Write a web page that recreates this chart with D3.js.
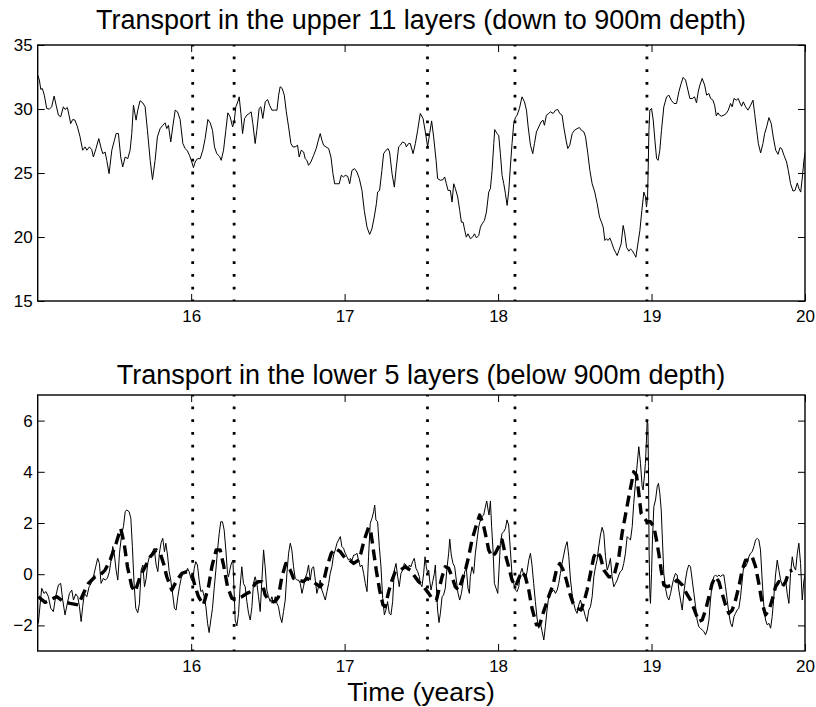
<!DOCTYPE html>
<html><head><meta charset="utf-8">
<script src="https://cdn.jsdelivr.net/npm/d3@7"></script>
<style>
body{margin:0;background:#fff}
svg{display:block}
text{font-family:"Liberation Sans",Arial,Helvetica,sans-serif;fill:#000}
</style>
</head><body>
<svg id="chart" width="816" height="707"></svg>
<script>
// ---------- data ----------
const upperTitle = "Transport in the upper 11 layers (down to 900m depth)";
const lowerTitle = "Transport in the lower 5 layers (below 900m depth)";
const xLabel = "Time (years)";
const xDomain = [15, 20];
const xTicks = [16, 17, 18, 19, 20];
const upperDomain = [15, 35];
const upperYTicks = [15, 20, 25, 30, 35];
const lowerDomain = [-3, 7];
const lowerYTicks = [-2, 0, 2, 4, 6];
const eventTimes = [16.01, 16.28, 17.54, 18.11, 18.97];

// [year, transport] upper 11 layers
const upperTransport = [
[15.000,32.65],[15.011,32.26],[15.020,31.53],[15.030,31.61],[15.043,31.08],[15.059,30.04],[15.076,29.99],[15.091,30.17],[15.107,31.01],[15.120,30.30],[15.135,29.52],[15.150,29.39],[15.167,30.17],[15.178,29.96],[15.193,30.12],[15.204,29.52],[15.215,28.86],[15.228,29.18],[15.243,29.13],[15.259,28.60],[15.276,27.82],[15.293,26.78],[15.309,27.04],[15.320,26.78],[15.337,27.04],[15.352,26.83],[15.363,26.25],[15.380,26.91],[15.398,27.69],[15.411,27.04],[15.424,26.51],[15.439,26.64],[15.450,25.99],[15.465,24.95],[15.483,26.78],[15.500,27.56],[15.511,28.08],[15.526,28.08],[15.541,26.25],[15.554,25.47],[15.570,26.25],[15.587,26.12],[15.602,26.78],[15.613,28.08],[15.624,30.30],[15.641,29.13],[15.652,29.91],[15.667,30.64],[15.685,30.48],[15.700,30.17],[15.715,28.34],[15.733,25.99],[15.748,24.48],[15.765,25.99],[15.780,27.82],[15.798,28.47],[15.815,28.73],[15.830,28.92],[15.841,28.47],[15.852,28.73],[15.867,27.43],[15.880,28.60],[15.896,29.91],[15.911,29.78],[15.928,29.18],[15.946,27.30],[15.961,26.91],[15.976,26.72],[15.989,26.38],[16.004,25.86],[16.015,25.42],[16.026,25.86],[16.041,26.12],[16.059,26.12],[16.076,26.78],[16.091,27.69],[16.109,29.18],[16.124,28.92],[16.139,28.34],[16.152,27.04],[16.167,26.51],[16.185,26.30],[16.196,25.99],[16.211,26.78],[16.226,28.34],[16.239,29.70],[16.254,29.39],[16.270,28.60],[16.280,28.99],[16.291,30.17],[16.304,30.56],[16.313,30.95],[16.324,29.65],[16.335,28.08],[16.348,29.26],[16.363,29.52],[16.378,29.65],[16.391,29.78],[16.402,28.86],[16.417,27.30],[16.428,28.34],[16.443,30.04],[16.454,30.17],[16.467,29.26],[16.483,30.56],[16.498,30.74],[16.511,30.30],[16.526,29.91],[16.541,29.91],[16.559,29.91],[16.570,31.08],[16.580,31.74],[16.593,31.61],[16.607,31.08],[16.620,29.78],[16.635,28.60],[16.650,27.30],[16.663,27.04],[16.678,27.04],[16.693,27.17],[16.704,26.25],[16.717,26.78],[16.733,26.64],[16.743,26.12],[16.754,25.99],[16.765,25.60],[16.780,25.86],[16.798,26.38],[16.815,26.91],[16.826,27.43],[16.841,28.08],[16.852,27.56],[16.863,27.17],[16.878,27.04],[16.896,26.91],[16.911,26.25],[16.924,24.95],[16.935,24.16],[16.950,24.16],[16.965,24.16],[16.978,24.82],[16.993,24.69],[17.004,24.82],[17.020,24.74],[17.033,24.16],[17.048,25.21],[17.065,25.34],[17.080,25.08],[17.096,24.56],[17.113,23.64],[17.128,22.08],[17.146,20.77],[17.163,20.20],[17.178,20.64],[17.193,21.55],[17.207,22.60],[17.215,23.51],[17.228,23.64],[17.243,25.21],[17.254,26.51],[17.270,26.78],[17.283,26.91],[17.293,26.64],[17.309,24.95],[17.324,23.90],[17.337,25.47],[17.352,27.04],[17.363,27.17],[17.378,27.43],[17.396,27.30],
[17.402,27.04],[17.417,27.30],[17.428,27.30],[17.446,26.51],[17.461,27.30],[17.476,28.34],[17.493,29.65],[17.511,29.26],[17.526,28.21],[17.541,27.04],[17.554,28.08],[17.567,29.07],[17.580,27.82],[17.596,25.99],[17.606,24.56],[17.624,24.43],[17.641,24.48],[17.652,24.69],[17.663,24.16],[17.674,23.64],[17.689,23.64],[17.700,22.73],[17.711,24.16],[17.722,23.77],[17.737,23.12],[17.750,22.08],[17.761,21.16],[17.772,21.16],[17.783,20.51],[17.793,19.99],[17.804,20.25],[17.820,19.86],[17.837,20.04],[17.846,20.25],[17.859,19.93],[17.874,20.12],[17.885,20.77],[17.896,21.03],[17.911,21.29],[17.924,21.95],[17.939,23.51],[17.950,23.77],[17.961,25.21],[17.972,27.30],[17.978,28.39],[17.993,28.08],[18.004,27.95],[18.015,26.51],[18.026,24.82],[18.037,24.16],[18.048,23.38],[18.059,22.47],[18.070,23.64],[18.080,25.47],[18.091,27.30],[18.102,28.86],[18.113,29.33],[18.124,29.52],[18.139,30.04],[18.156,30.95],[18.172,30.56],[18.185,29.91],[18.196,28.60],[18.211,27.17],[18.226,26.51],[18.237,27.30],[18.250,28.21],[18.265,28.60],[18.280,28.99],[18.293,29.13],[18.302,28.73],[18.315,29.52],[18.330,29.65],[18.341,29.78],[18.359,29.65],[18.374,29.91],[18.389,29.96],[18.402,29.65],[18.417,29.52],[18.428,28.60],[18.443,27.56],[18.454,26.91],[18.467,27.17],[18.483,28.08],[18.498,28.34],[18.515,28.47],[18.530,28.55],[18.543,28.34],[18.559,28.21],[18.570,27.82],[18.585,26.51],[18.598,25.21],[18.613,24.16],[18.630,23.51],[18.646,22.60],[18.661,21.55],[18.674,21.16],[18.685,20.77],[18.696,19.73],[18.706,19.86],[18.717,19.73],[18.728,19.93],[18.739,19.60],[18.754,19.07],[18.765,18.81],[18.776,18.55],[18.787,18.94],[18.802,19.46],[18.815,20.90],[18.826,20.25],[18.837,19.20],[18.852,18.89],[18.863,19.07],[18.874,18.94],[18.889,18.63],[18.898,18.42],[18.911,19.46],[18.924,20.51],[18.937,22.08],[18.950,23.51],[18.961,23.12],[18.967,22.34],[18.974,23.12],[18.978,25.21],[18.983,28.34],[18.989,29.91],[19.000,30.04],[19.011,29.13],[19.022,27.56],[19.033,26.12],[19.043,25.99],[19.054,26.78],[19.065,28.34],[19.080,30.17],[19.098,30.95],[19.113,31.08],[19.128,30.69],[19.146,30.43],[19.163,30.43],[19.178,31.34],[19.193,32.00],[19.206,32.47],[19.222,32.26],[19.237,31.48],[19.250,30.82],[19.265,30.82],[19.280,30.95],[19.293,30.48],[19.304,31.34],[19.315,31.87],[19.330,32.39],[19.346,31.87],[19.359,31.08],[19.374,31.21],[19.385,30.82],[19.400,30.69],[19.411,30.30],[19.422,29.46],[19.433,29.70],[19.443,29.52],[19.456,29.44],[19.472,29.52],[19.487,29.65],[19.500,29.91],[19.515,30.43],[19.526,30.17],[19.537,30.82],[19.552,30.69],[19.565,30.82],[19.576,30.48],[19.587,30.22],[19.598,30.56],[19.613,30.17],[19.628,29.91],[19.646,30.30],[19.661,30.69],[19.672,29.65],[19.685,28.34],[19.696,27.30],[19.711,26.57],[19.726,27.30],[19.737,28.08],[19.750,28.60],[19.765,29.33],[19.780,28.86],[19.793,27.82],[19.809,26.78],[19.824,26.46],[19.837,26.98],[19.848,26.91],[19.863,26.38],[19.880,25.86],[19.891,25.21],[19.906,24.16],[19.922,23.59],[19.935,23.64],[19.950,24.22],[19.961,23.77],[19.972,23.51],[19.983,24.69],[19.993,25.99],[20.004,26.78]
];

// [year, transport] lower 5 layers (thin solid)
const lowerTransport = [
[15.004,-1.92],[15.026,-0.55],[15.041,-0.75],[15.054,-0.68],[15.070,-0.88],[15.085,-1.33],[15.102,-1.46],[15.117,-0.88],[15.135,-0.42],[15.150,-0.36],[15.163,-1.01],[15.178,-1.59],[15.193,-1.14],[15.207,-0.75],[15.222,-0.62],[15.233,-1.01],[15.248,-0.77],[15.261,-0.88],[15.272,-1.27],[15.283,-1.85],[15.293,-1.27],[15.304,-0.75],[15.320,-0.88],[15.335,-0.49],[15.348,-0.36],[15.363,-0.10],[15.378,0.29],[15.391,0.62],[15.402,0.42],[15.413,-0.36],[15.428,-0.16],[15.439,-0.23],[15.454,-0.16],[15.467,0.10],[15.478,0.55],[15.489,1.08],[15.500,0.75],[15.511,0.16],[15.522,-0.23],[15.533,0.82],[15.548,1.60],[15.559,1.86],[15.570,2.44],[15.580,2.51],[15.596,2.44],[15.607,2.18],[15.617,1.08],[15.628,-0.36],[15.639,-1.33],[15.652,-1.50],[15.663,-1.14],[15.674,0.16],[15.685,0.36],[15.696,-0.49],[15.707,-0.16],[15.717,0.42],[15.728,0.68],[15.743,0.82],[15.759,1.01],[15.772,0.36],[15.783,0.10],[15.793,0.82],[15.804,1.23],[15.815,1.40],[15.826,0.88],[15.835,1.21],[15.846,0.75],[15.857,0.10],[15.867,-0.23],[15.880,-0.81],[15.891,-1.33],[15.902,-1.40],[15.913,-0.88],[15.924,-0.49],[15.935,-0.16],[15.946,0.03],[15.957,0.10],[15.967,0.03],[15.976,0.23],[15.987,0.10],[15.998,-0.16],[16.009,-0.29],[16.020,0.23],[16.030,0.49],[16.041,0.36],[16.052,-0.23],[16.063,-0.68],[16.074,-0.62],[16.085,-0.88],[16.096,-1.27],[16.107,-1.92],[16.117,-2.28],[16.128,-1.79],[16.139,-1.33],[16.150,-0.55],[16.161,0.16],[16.172,0.95],[16.183,1.60],[16.193,2.05],[16.204,2.05],[16.215,1.73],[16.226,0.95],[16.237,0.03],
[16.243,-0.10],[16.259,0.36],[16.272,0.55],[16.287,-1.79],[16.298,-2.02],[16.309,-1.53],[16.319,-0.49],[16.330,0.29],[16.341,-0.36],[16.352,-0.49],[16.363,-1.07],[16.374,-1.53],[16.385,-1.79],[16.396,-1.27],[16.406,-0.36],[16.417,-0.10],[16.428,-0.36],[16.439,-0.88],[16.450,-1.46],[16.461,-0.23],[16.472,0.95],[16.482,0.29],[16.493,-0.62],[16.504,-0.88],[16.515,-1.07],[16.526,-0.88],[16.537,-1.14],[16.548,-0.88],[16.559,-1.14],[16.569,-1.27],[16.580,-1.66],[16.591,-1.89],[16.602,-1.46],[16.613,-1.01],[16.624,0.03],[16.635,0.82],[16.646,1.21],[16.656,0.95],[16.667,0.29],[16.678,-0.16],[16.689,-0.23],[16.700,-0.23],[16.711,-0.36],[16.722,-0.75],[16.732,-0.49],[16.743,-0.16],[16.754,0.03],[16.765,0.36],[16.776,-0.23],[16.787,0.23],[16.798,0.29],[16.809,-0.23],[16.819,-0.75],[16.830,-0.49],[16.841,-0.23],[16.852,-0.62],[16.863,-0.81],[16.874,-1.01],[16.885,-0.68],[16.896,-0.36],[16.906,0.03],[16.917,0.29],[16.928,0.75],[16.939,0.95],[16.950,1.21],[16.961,1.34],[16.972,1.47],[16.982,1.08],[16.993,1.01],[17.004,0.82],[17.015,0.68],[17.026,0.55],[17.037,0.62],[17.048,0.55],[17.059,0.75],[17.069,0.75],[17.080,0.82],[17.091,0.55],[17.102,0.29],[17.113,0.36],[17.124,0.03],[17.135,-0.36],[17.146,-0.68],[17.156,0.68],[17.167,1.99],[17.178,2.18],[17.189,2.44],[17.196,2.70],[17.204,2.12],[17.215,2.05],[17.226,1.08],[17.237,0.29],[17.248,-0.94],[17.259,-1.59],[17.269,-1.40],[17.280,-1.07],[17.291,-1.53],[17.302,-1.59],[17.313,-1.07],[17.324,0.16],[17.335,0.42],[17.346,-0.10],[17.356,-0.49],[17.367,0.03],[17.378,0.16],[17.389,0.42],[17.400,0.36],[17.411,0.16],[17.422,0.36],[17.432,0.29],[17.443,0.49],[17.454,0.62],[17.465,0.23],[17.476,0.10],[17.487,-0.10],
[17.493,-0.36],[17.504,-0.49],[17.515,0.03],[17.524,0.68],[17.532,0.29],[17.541,0.03],[17.548,0.16],[17.554,-0.23],[17.563,-0.62],[17.574,-0.29],[17.585,0.03],[17.591,0.36],[17.598,-0.49],[17.606,-1.40],[17.615,-1.89],[17.624,-1.53],[17.635,-0.88],[17.645,-0.81],[17.656,-0.55],[17.667,0.23],[17.678,0.82],[17.685,1.37],[17.695,0.75],[17.706,0.42],[17.717,0.29],[17.728,-0.23],[17.739,-0.75],[17.750,-1.01],[17.761,-0.75],[17.771,-0.36],[17.782,0.10],[17.793,0.23],[17.804,-0.55],[17.813,-0.75],[17.819,-0.10],[17.830,0.29],[17.841,0.03],[17.852,0.82],[17.863,1.34],[17.874,1.86],[17.885,2.12],[17.895,2.25],[17.906,2.31],[17.917,2.62],[17.926,2.86],[17.935,2.51],[17.941,2.31],[17.950,2.86],[17.958,1.86],[17.967,0.95],[17.976,-0.36],[17.987,-0.55],[17.998,-0.75],[18.006,0.16],[18.015,1.21],[18.026,1.60],[18.037,1.66],[18.048,1.79],[18.058,2.12],[18.069,1.92],[18.080,0.95],[18.091,-0.03],[18.102,-0.36],[18.113,-0.62],[18.124,-0.68],[18.135,-0.49],[18.145,0.03],[18.156,0.23],[18.167,-0.03],[18.178,-0.23],[18.189,0.10],[18.200,0.55],[18.211,0.82],[18.221,0.36],[18.232,-0.36],[18.243,-1.07],[18.254,-1.72],[18.265,-2.11],[18.276,-1.92],[18.287,-2.24],[18.298,-2.57],[18.308,-2.05],[18.319,-1.40],[18.330,-0.88],[18.341,-0.75],[18.352,-0.68],[18.363,-0.62],[18.374,-0.75],[18.385,-0.62],[18.395,-0.36],[18.406,0.03],[18.417,0.42],[18.428,0.75],[18.439,1.08],[18.450,1.27],[18.461,0.68],[18.472,-0.23],[18.482,-0.75],[18.493,-1.14],[18.504,-1.40],[18.515,-1.53],[18.526,-1.20],[18.537,-1.01],[18.548,-1.27],[18.558,-1.40],[18.569,-1.66],[18.580,-1.85],[18.591,-1.40],[18.602,-1.27],[18.613,-0.88],[18.624,-0.10],[18.635,0.29],[18.645,0.55],[18.656,1.08],[18.667,1.53],[18.678,1.83],[18.689,1.60],[18.700,0.68],[18.711,0.16],[18.722,0.36],[18.732,0.62],
[18.743,-0.10],[18.754,-0.49],[18.765,-0.36],[18.776,-0.23],[18.787,-0.03],[18.797,0.10],[18.808,0.16],[18.819,0.42],[18.830,0.82],[18.841,1.47],[18.852,1.40],[18.863,1.34],[18.874,1.86],[18.884,2.77],[18.895,3.55],[18.906,4.26],[18.917,4.98],[18.928,4.33],[18.939,3.42],[18.945,3.29],[18.954,3.87],[18.960,4.33],[18.967,5.24],[18.971,5.96],[18.976,5.89],[18.980,4.20],[18.984,0.95],[18.989,-0.75],[18.993,-1.14],[19.000,0.03],[19.006,1.34],[19.015,2.64],[19.026,2.90],[19.037,3.42],[19.045,3.55],[19.054,3.16],[19.063,2.51],[19.071,1.34],[19.080,0.03],[19.091,-0.55],[19.102,-0.88],[19.113,-1.01],[19.124,-0.75],[19.135,-0.42],[19.145,-0.16],[19.156,0.03],[19.167,-0.03],[19.178,-0.62],[19.189,-1.01],[19.200,-1.40],[19.210,-0.75],[19.221,-0.23],[19.232,0.16],[19.243,0.36],[19.254,0.29],[19.265,-0.23],[19.276,-0.75],[19.287,-1.27],[19.297,-1.79],[19.308,-2.05],[19.319,-2.11],[19.330,-2.18],[19.341,-2.24],[19.352,-2.37],[19.363,-2.18],[19.374,-1.79],[19.384,-1.01],[19.395,-0.36],[19.406,-0.10],[19.417,-0.03],[19.428,-0.10],[19.439,-0.03],[19.450,-0.10],[19.460,-0.03],[19.471,-0.03],[19.482,-0.49],[19.493,-1.01],[19.504,-1.53],[19.515,-1.92],[19.526,-2.05],[19.537,-1.66],[19.547,-1.53],[19.558,-1.40],[19.569,-1.33],[19.580,-0.88],[19.591,-0.23],[19.602,0.42],[19.613,0.29],[19.623,0.42],[19.634,0.68],[19.645,0.82],[19.656,0.88],[19.667,1.08],[19.678,1.34],[19.689,1.40],[19.699,1.34],[19.710,0.95],[19.721,-0.23],[19.732,-1.27],[19.743,-1.79],[19.754,-1.98],[19.765,-1.92],[19.776,-2.11],[19.786,-1.66],[19.797,-0.88],[19.808,-0.03],[19.819,0.55],[19.830,0.16],[19.841,-0.23],[19.852,-0.42],[19.863,-0.36],[19.874,-0.23],[19.884,-0.75],[19.895,-1.14],[19.906,0.03],[19.917,0.68],[19.928,0.29],[19.939,0.16],[19.950,0.82],[19.960,1.21],[19.971,0.42],[19.982,-1.01],[19.993,-0.23],[20.002,-0.03]
];

// [year, transport] lower 5 layers (thick dashed)
const lowerSmoothed = [
[15.004,-0.88],[15.048,-1.10],[15.080,-1.01],[15.124,-0.88],[15.167,-1.07],[15.211,-1.14],[15.265,-1.20],[15.298,-0.75],[15.330,-0.36],[15.374,-0.10],[15.407,-0.03],[15.439,0.16],[15.472,0.55],[15.511,1.21],[15.541,1.79],[15.563,1.21],[15.585,0.29],[15.613,-0.49],[15.635,-0.68],[15.667,-0.10],[15.700,0.29],[15.733,0.68],[15.772,0.95],[15.798,0.82],[15.820,0.42],[15.841,-0.10],[15.874,-0.62],[15.907,-0.23],[15.939,0.03],[15.972,0.10],[16.004,0.03],[16.026,-0.49],[16.048,-0.88],[16.080,-1.20],[16.113,-0.49],[16.135,0.29],[16.163,0.95],[16.189,0.95],[16.211,0.36],[16.237,-0.49],
[16.265,-0.94],[16.298,-0.98],[16.330,-0.88],[16.363,-0.75],[16.389,-0.68],[16.417,-0.36],[16.439,-0.29],[16.461,-0.29],[16.482,-0.81],[16.515,-1.07],[16.548,-1.07],[16.569,-0.88],[16.591,-0.10],[16.617,0.42],[16.646,0.16],[16.667,-0.16],[16.700,-0.23],[16.732,-0.29],[16.754,-0.16],[16.776,-0.23],[16.809,-0.36],[16.841,-0.49],[16.863,-0.29],[16.885,0.29],[16.913,0.82],[16.939,1.01],[16.972,0.88],[17.004,0.62],[17.032,0.55],[17.059,0.42],[17.091,0.55],[17.106,0.82],[17.128,1.34],[17.156,1.83],[17.172,1.60],[17.189,0.88],[17.206,0.16],[17.228,-0.62],[17.250,-1.20],[17.265,-1.27],[17.287,-0.68],[17.309,-0.23],[17.330,0.10],[17.363,0.16],[17.395,0.29],[17.428,0.16],
[17.450,-0.03],[17.482,-0.29],[17.515,-0.49],[17.548,-0.75],[17.569,-0.94],[17.598,-1.01],[17.619,-0.49],[17.635,-0.10],[17.656,0.29],[17.678,0.23],[17.700,-0.10],[17.721,-0.49],[17.743,-0.62],[17.765,-0.23],[17.787,0.16],[17.808,0.68],[17.830,1.34],[17.852,1.79],[17.880,2.31],[17.902,1.99],[17.919,1.53],[17.939,0.95],[17.961,0.68],[17.982,0.82],[18.004,1.08],[18.026,1.34],[18.048,0.75],[18.069,0.29],[18.091,-0.23],[18.113,-0.49],[18.135,-0.16],[18.156,0.10],[18.178,-0.10],[18.200,-0.62],[18.221,-1.33],[18.250,-1.98],[18.271,-1.98],[18.293,-1.53],[18.315,-1.14],[18.337,-0.75],[18.358,-0.42],[18.380,0.16],[18.402,0.42],[18.424,0.16],[18.445,-0.23],[18.467,-0.75],[18.489,-1.14],[18.515,-1.33],[18.541,-1.40],[18.563,-1.01],[18.580,-0.62],[18.602,0.03],[18.624,0.68],[18.645,0.88],[18.667,0.68],[18.689,0.16],
[18.721,-0.10],[18.754,-0.10],[18.787,0.68],[18.808,1.60],[18.830,2.31],[18.858,3.22],[18.884,4.00],[18.902,3.87],[18.917,3.16],[18.932,2.38],[18.950,2.22],[18.971,2.05],[18.993,2.05],[19.015,1.86],[19.032,1.34],[19.047,0.82],[19.063,0.16],[19.080,-0.42],[19.102,-0.49],[19.134,-0.42],[19.167,-0.23],[19.200,-0.42],[19.228,-0.75],[19.254,-1.01],[19.280,-1.40],[19.308,-1.85],[19.330,-1.79],[19.352,-1.40],[19.374,-0.88],[19.395,-0.36],[19.417,-0.10],[19.439,-0.29],[19.460,-0.75],[19.482,-1.20],[19.504,-1.53],[19.526,-1.40],[19.547,-1.01],[19.569,-0.49],[19.591,0.16],[19.613,0.55],[19.634,0.55],[19.656,0.68],[19.678,0.29],[19.699,-0.36],[19.721,-1.14],[19.743,-1.59],[19.765,-1.40],[19.786,-1.01],[19.808,-0.49],[19.830,-0.29],[19.852,-0.49],[19.874,-0.29],[19.895,0.10],[19.917,0.16]
];

// ---------- drawing ----------
const svg = d3.select("#chart");
const left = 37.7, right = 805;
const x = d3.scaleLinear().domain(xDomain).range([left, right]);
const fmt = d => d < 0 ? "\u2212" + Math.abs(d) : String(d);
const FONT = '"Liberation Sans",Arial,Helvetica,sans-serif';

function drawPanel(cfg) {
  const y = d3.scaleLinear().domain(cfg.domain).range([cfg.bottom, cfg.top]);
  const g = svg.append("g");
  const clipId = "clip" + cfg.id;
  svg.append("clipPath").attr("id", clipId).append("rect")
    .attr("x", left).attr("y", cfg.top).attr("width", right - left).attr("height", cfg.bottom - cfg.top);

  // axes (ticks inside on all four sides)
  const tk = 7;
  const ax = [
    g.append("g").attr("transform", `translate(${left},0)`).call(d3.axisLeft(y).tickValues(cfg.yTicks).tickSize(-tk).tickPadding(5).tickFormat(fmt)),
    g.append("g").attr("transform", `translate(${right},0)`).call(d3.axisRight(y).tickValues(cfg.yTicks).tickSize(-tk).tickFormat("")),
    g.append("g").attr("transform", `translate(0,${cfg.bottom})`).call(d3.axisBottom(x).tickValues(xTicks).tickSize(-tk).tickPadding(9).tickFormat(fmt)),
    g.append("g").attr("transform", `translate(0,${cfg.top})`).call(d3.axisTop(x).tickValues(xTicks).tickSize(-tk).tickFormat(""))
  ];
  ax.forEach(a => {
    a.select(".domain").remove();
    a.selectAll(".tick line").attr("stroke", "#000").attr("stroke-width", 1);
    a.selectAll(".tick text").style("font-size", "17px").style("font-family", FONT).attr("fill", "#000");
  });

  const plot = g.append("g").attr("clip-path", `url(#${clipId})`);
  const line = d3.line().x(d => x(d[0])).y(d => y(d[1]));
  cfg.series.forEach(s => {
    plot.append("path").datum(s.data).attr("d", line)
      .attr("fill", "none").attr("stroke", "#000")
      .attr("stroke-width", s.width).attr("stroke-dasharray", s.dash || null)
      .attr("stroke-linejoin", "round");
  });
  // event markers (dotted verticals)
  plot.selectAll("line.ev").data(eventTimes).enter().append("line")
    .attr("x1", d => x(d)).attr("x2", d => x(d))
    .attr("y1", cfg.top).attr("y2", cfg.bottom + 1.5)
    .attr("stroke", "#000").attr("stroke-width", 2.8)
    .attr("stroke-dasharray", "2.8,10").attr("stroke-dashoffset", 1.4);

  // box
  g.append("rect").attr("x", left).attr("y", cfg.top)
    .attr("width", right - left).attr("height", cfg.bottom - cfg.top)
    .attr("fill", "none").attr("stroke", "#000").attr("stroke-width", 1.4);

  svg.append("text").attr("x", 421).attr("y", cfg.titleY)
    .attr("text-anchor", "middle").style("font-size", "27px").text(cfg.title);
}

drawPanel({id: 1, domain: upperDomain, yTicks: upperYTicks, top: 45, bottom: 301,
  title: upperTitle, titleY: 29,
  series: [{data: upperTransport, width: 1}]});

drawPanel({id: 2, domain: lowerDomain, yTicks: lowerYTicks, top: 395, bottom: 651,
  title: lowerTitle, titleY: 384,
  series: [{data: lowerTransport, width: 1}, {data: lowerSmoothed, width: 3.4, dash: "11,6"}]});

svg.append("text").attr("x", 421).attr("y", 701).attr("text-anchor", "middle")
  .style("font-size", "26.5px").text(xLabel);
</script>
</body></html>
